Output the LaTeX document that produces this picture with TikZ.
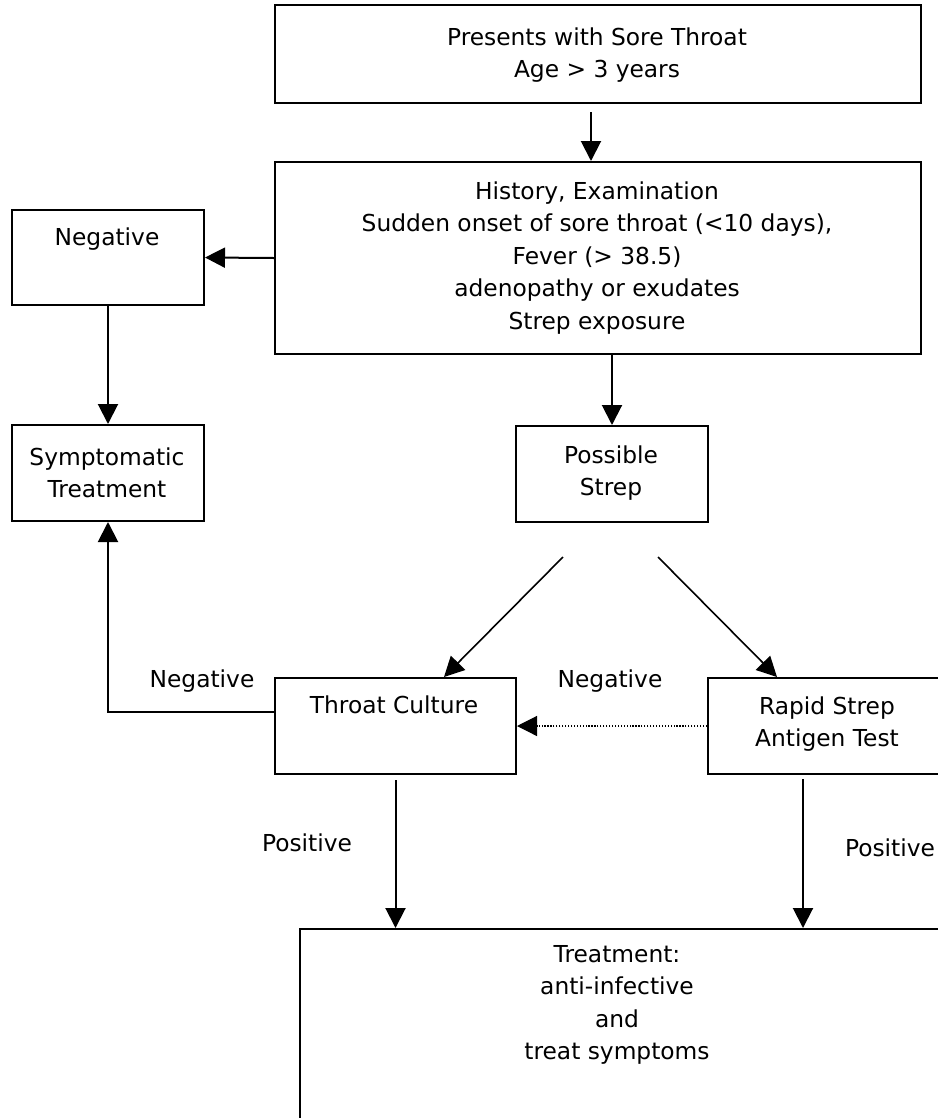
\documentclass[tikz,border=0pt]{standalone}
\usepackage{fontspec}
\setmainfont{DejaVu Sans}
\usetikzlibrary{arrows.meta,calc}
\begin{document}
\begin{tikzpicture}[x=0.75pt,y=-0.75pt,
  box/.style={draw,line width=1.5pt,rectangle,inner sep=0pt,anchor=north west},
  txt/.style={font=\fontsize{17.5pt}{24.4pt}\selectfont,align=center,inner sep=0pt},
  lbl/.style={font=\fontsize{17.5pt}{24.4pt}\selectfont,inner sep=0pt,anchor=base},
  arr/.style={line width=1.5pt,-{Triangle[length=15pt,width=15pt]}},
  thin/.style={line width=1.2pt,-{Triangle[length=15pt,width=15pt]}},
  dotarr/.style={line width=0.9pt,dash pattern=on 0.9pt off 1.3pt,-{Triangle[length=15pt,width=15pt]}}]
\useasboundingbox (0,0) rectangle (938,1118);
% boxes
\node[box,minimum width=484.5pt,minimum height=73.5pt] (top) at (274,4) {};
\node[box,minimum width=484.5pt,minimum height=144pt] (hist) at (274,161) {};
\node[box,minimum width=144pt,minimum height=71.25pt] (neg) at (11,209) {};
\node[box,minimum width=144pt,minimum height=72pt] (symp) at (11,424) {};
\node[box,minimum width=144pt,minimum height=72pt] (poss) at (515,425) {};
\node[box,minimum width=180.75pt,minimum height=72pt] (tc) at (274,677) {};
\node[box,minimum width=180.75pt,minimum height=72pt] (rs) at (707,677) {};
\node[box,minimum width=486.75pt,minimum height=151.5pt] (tr) at (299,928) {};
% texts
\node[txt] (ttop) at (597,55) {Presents with Sore Throat\\Age {>} 3 years};
\node[txt] (thist) at (597,258) {History, Examination\\Sudden onset of sore throat ({<}10 days),\\Fever ({>} 38.5)\\adenopathy or exudates\\Strep exposure};
\node[lbl] (tneg) at (107,245) {Negative};
\node[txt] (tsymp) at (107,473) {Symptomatic\\Treatment};
\node[txt] (tposs) at (611,473) {Possible\\Strep};
\node[lbl] (ttc) at (394,713) {Throat Culture};
\node[txt] (trs) at (827,724) {Rapid Strep\\Antigen Test};
\node[txt,anchor=north] (ttr) at (617,945) {Treatment:\\anti-infective\\and\\treat symptoms};
% labels
\node[lbl] (lneg1) at (202,687) {Negative};
\node[lbl] (lneg2) at (610,687) {Negative};
\node[lbl] (lpos1) at (307,851) {Positive};
\node[lbl] (lpos2) at (890,856) {Positive};
% connectors
\coordinate (a0) at (591,112);
\draw[arr] (a0) -- (a0 |- hist.north);
\draw[arr] (hist.west) -- (neg.east);
\draw[arr] (neg.south) -- (symp.north);
\draw[arr] (poss.north |- hist.south) -- (poss.north);
\coordinate (d1) at (563,557);
\coordinate (d2) at (658,557);
\draw[thin] (d1) -- (444,0 |- tc.north);
\draw[thin] (d2) -- (777,0 |- rs.north);
\draw[dotarr] (rs.west) -- (tc.east);
\draw[arr] ($(tc.west)+(0,-14)$) -| (symp.south);
\draw[arr,shorten <=4pt] (tc.south) -- (tc.south |- tr.north);
\draw[arr,shorten <=3pt] (803,0 |- rs.south) -- (803,0 |- tr.north);
\end{tikzpicture}
\end{document}
